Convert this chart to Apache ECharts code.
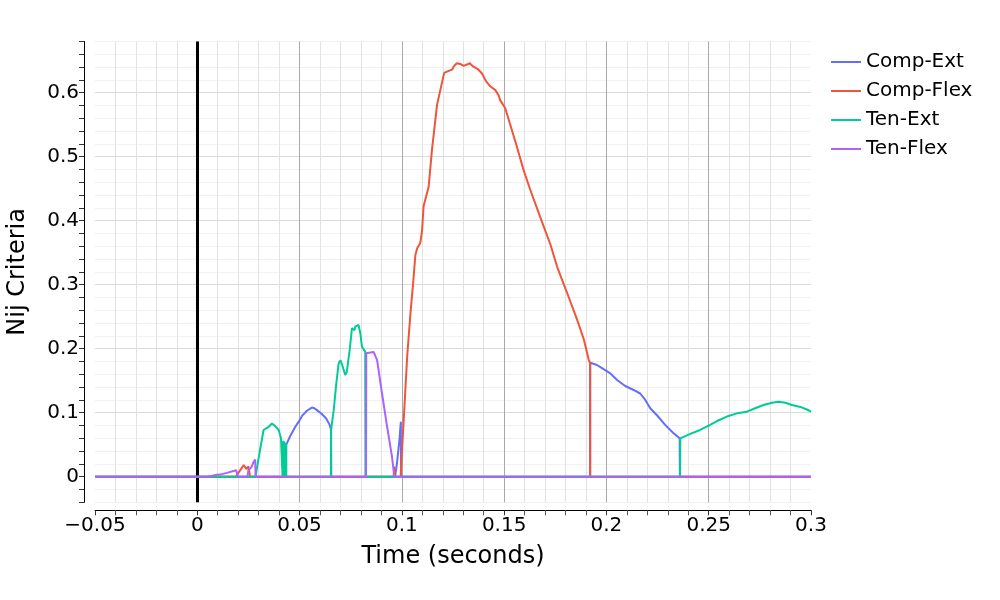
<!DOCTYPE html>
<html>
<head>
<meta charset="utf-8">
<script src="https://cdn.jsdelivr.net/npm/echarts@6/dist/echarts.min.js"></script>
<style>
html,body{margin:0;padding:0;background:#fff;}
#chart{width:1000px;height:600px;}
</style>
</head>
<body>
<div id="chart"></div>
<script>
var seriesNames = ['Comp-Ext', 'Comp-Flex', 'Ten-Ext', 'Ten-Flex'];
var seriesColors = ['#636efa', '#EF553B', '#00cc96', '#ab63fa'];

var compExt = [
  [-0.05,0],[0.0434,0],[0.0435,0.050],[0.0455,0.064],[0.0479,0.078],[0.0500,0.088],
  [0.0512,0.095],[0.0536,0.103],[0.0560,0.108],[0.0572,0.107],[0.0585,0.104],
  [0.0609,0.098],[0.0630,0.091],[0.0647,0.081],[0.0654,0.073],[0.0655,0],
  [0.0967,0],[0.0976,0.021],[0.0989,0.060],[0.0995,0.086],[0.0996,0],
  [0.1920,0],[0.1921,0.178],[0.1954,0.1745],[0.1986,0.168],[0.2019,0.1615],
  [0.2052,0.151],[0.2092,0.1417],[0.2133,0.1355],[0.2165,0.130],[0.2190,0.120],
  [0.2214,0.107],[0.2247,0.096],[0.2287,0.081],[0.2328,0.068],[0.2358,0.060],
  [0.2359,0],[0.3,0]
];

var compFlex = [
  [-0.05,0],[-0.0465,0],[-0.0460,0.002],[-0.0455,0],[0.0189,0],[0.0205,0.008],
  [0.0227,0.018],[0.0240,0.012],[0.0250,0.016],[0.0258,0],[0.0960,0],[0.0963,0.016],
  [0.0966,0],[0.0994,0],[0.1010,0.094],[0.1026,0.1875],[0.1042,0.255],[0.1055,0.302],
  [0.1066,0.346],[0.1075,0.357],[0.1082,0.355],[0.1090,0.365],[0.1099,0.385],
  [0.1106,0.422],[0.1131,0.453],[0.1147,0.510],[0.1172,0.581],[0.1188,0.604],
  [0.1207,0.631],[0.1229,0.634],[0.1245,0.636],[0.1256,0.642],[0.1269,0.646],
  [0.1285,0.645],[0.1302,0.642],[0.1318,0.644],[0.1332,0.646],[0.1348,0.641],
  [0.1371,0.637],[0.1392,0.630],[0.1408,0.620],[0.1416,0.616],[0.1432,0.610],
  [0.1457,0.604],[0.1473,0.596],[0.1481,0.588],[0.1505,0.576],[0.1530,0.550],
  [0.1562,0.516],[0.1595,0.479],[0.1628,0.448],[0.1676,0.406],[0.1727,0.362],
  [0.1759,0.328],[0.1808,0.287],[0.1857,0.245],[0.1890,0.214],[0.1914,0.182],
  [0.1920,0.178],[0.1921,0],[0.3,0]
];

var tenExt = [
  [-0.05,0],[0.0285,0],[0.0295,0.020],[0.0308,0.044],[0.0324,0.073],[0.0349,0.078],
  [0.0365,0.083],[0.0381,0.079],[0.0398,0.073],[0.0409,0.060],[0.0416,0.057],
  [0.0417,0],[0.0420,0.056],[0.0422,0],[0.0425,0.055],[0.0427,0],[0.0430,0.053],
  [0.0432,0],[0.0434,0.052],[0.0435,0],[0.0653,0],[0.0654,0.073],[0.0667,0.104],
  [0.0678,0.141],[0.0691,0.177],[0.0700,0.182],[0.0708,0.175],[0.0723,0.159],
  [0.0731,0.164],[0.0745,0.198],[0.0756,0.232],[0.0764,0.234],[0.0768,0.229],
  [0.0773,0.235],[0.0788,0.237],[0.0797,0.224],[0.0805,0.203],[0.0813,0.204],
  [0.0821,0.195],[0.0822,0],[0.2360,0],[0.2361,0.060],[0.2410,0.067],[0.2458,0.073],
  [0.2507,0.081],[0.2540,0.087],[0.2589,0.094],[0.2638,0.099],[0.2687,0.1016],
  [0.2727,0.107],[0.2768,0.112],[0.2809,0.1156],[0.2842,0.117],[0.2875,0.1156],
  [0.2907,0.112],[0.2948,0.109],[0.2980,0.105],[0.3,0.1016]
];

var tenFlex = [
  [-0.05,0],[-0.0205,0],[-0.0200,0.002],[-0.0195,0],[0.0050,0],[0.0096,0.003],
  [0.0120,0.004],[0.0145,0.006],[0.0177,0.009],[0.0190,0.010],[0.0196,0.0105],
  [0.0199,0],[0.0245,0],[0.0250,0.010],[0.0265,0.015],[0.0275,0.023],[0.0283,0.027],
  [0.0285,0],[0.0825,0],[0.0826,0.193],[0.0846,0.194],[0.0862,0.195],[0.0870,0.192],
  [0.0879,0.182],[0.0903,0.130],[0.0928,0.078],[0.0952,0.031],[0.0963,0],[0.3,0]
];

var xTicks = { min: -0.05, max: 0.3, step: 0.05 };
var yTicks = { min: -0.04, max: 0.68, step: 0.02, labelStep: 0.1 };

var FONT = 'DejaVu Sans';
function fmt(v) {
  var s = String(+v.toFixed(3));
  return s.replace('-', '\u2212');
}

var chart = echarts.init(document.getElementById('chart'), null, { renderer: 'canvas' });
var dataSets = [compExt, compFlex, tenExt, tenFlex];

var series = dataSets.map(function (d, i) {
  var s = {
    name: seriesNames[i],
    type: 'line',
    data: d,
    showSymbol: false,
    symbol: 'none',
    sampling: null,
    lineStyle: { width: 2, color: seriesColors[i] },
    itemStyle: { color: seriesColors[i] },
    animation: false,
    z: 3
  };
  if (i === 0) {
    s.markLine = {
      silent: true,
      symbol: ['none', 'none'],
      animation: false,
      z: 1,
      label: { show: false },
      data: [
        { yAxis: 0, lineStyle: { color: '#777', width: 2, type: 'solid' } },
        { xAxis: 0, lineStyle: { color: '#000', width: 3, type: 'solid' } }
      ]
    };
  }
  return s;
});

chart.setOption({
  animation: false,
  backgroundColor: '#fff',
  textStyle: { fontFamily: FONT },
  grid: { left: 95, right: 189, top: 41.5, bottom: 97.7, containLabel: false, outerBoundsMode: 'none' },
  legend: {
    orient: 'vertical',
    left: 831,
    top: 52,
    icon: 'rect',
    itemWidth: 30,
    itemHeight: 2,
    itemGap: 9,
    padding: 0,
    data: seriesNames,
    textStyle: { fontSize: 20, color: '#000', fontFamily: FONT, lineHeight: 20 }
  },
  xAxis: {
    type: 'value',
    min: xTicks.min,
    max: xTicks.max,
    interval: xTicks.step,
    offset: 8,
    name: 'Time (seconds)',
    nameLocation: 'middle',
    nameGap: 34,
    nameTextStyle: { fontSize: 24, color: '#000', fontFamily: FONT },
    axisLine: { show: true, onZero: false, lineStyle: { color: '#000', width: 1 } },
    axisTick: { show: true, length: 5, lineStyle: { color: '#333' } },
    minorTick: { show: true, splitNumber: 5, length: 5, lineStyle: { color: '#555' } },
    axisLabel: { fontSize: 20, color: '#000', margin: 5, fontFamily: FONT, formatter: fmt },
    splitLine: { show: true, showMinLine: false, showMaxLine: false, lineStyle: { color: '#a9a9a9', width: 1 } },
    minorSplitLine: { show: true, lineStyle: { color: '#e2e2e2', width: 1 } }
  },
  yAxis: {
    type: 'value',
    min: yTicks.min,
    max: yTicks.max,
    interval: yTicks.step,
    offset: 11,
    name: 'Nij Criteria',
    nameLocation: 'middle',
    nameGap: 54,
    nameTextStyle: { fontSize: 24, color: '#000', fontFamily: FONT },
    axisLine: { show: true, onZero: false, lineStyle: { color: '#000', width: 1 } },
    axisTick: { show: true, length: 5, lineStyle: { color: '#333' } },
    axisLabel: {
      fontSize: 20, color: '#000', margin: 5, fontFamily: FONT,
      formatter: function (v) {
        var r = v / yTicks.labelStep;
        if (Math.abs(r - Math.round(r)) < 1e-6) return fmt(v);
        return '';
      }
    },
    splitLine: {
      show: true,
      lineStyle: { color: ['#f1f1f1', '#f1f1f1', '#dcdcdc', '#f1f1f1', '#f1f1f1'], width: 1 }
    }
  },
  series: series
});
</script>
</body>
</html>
